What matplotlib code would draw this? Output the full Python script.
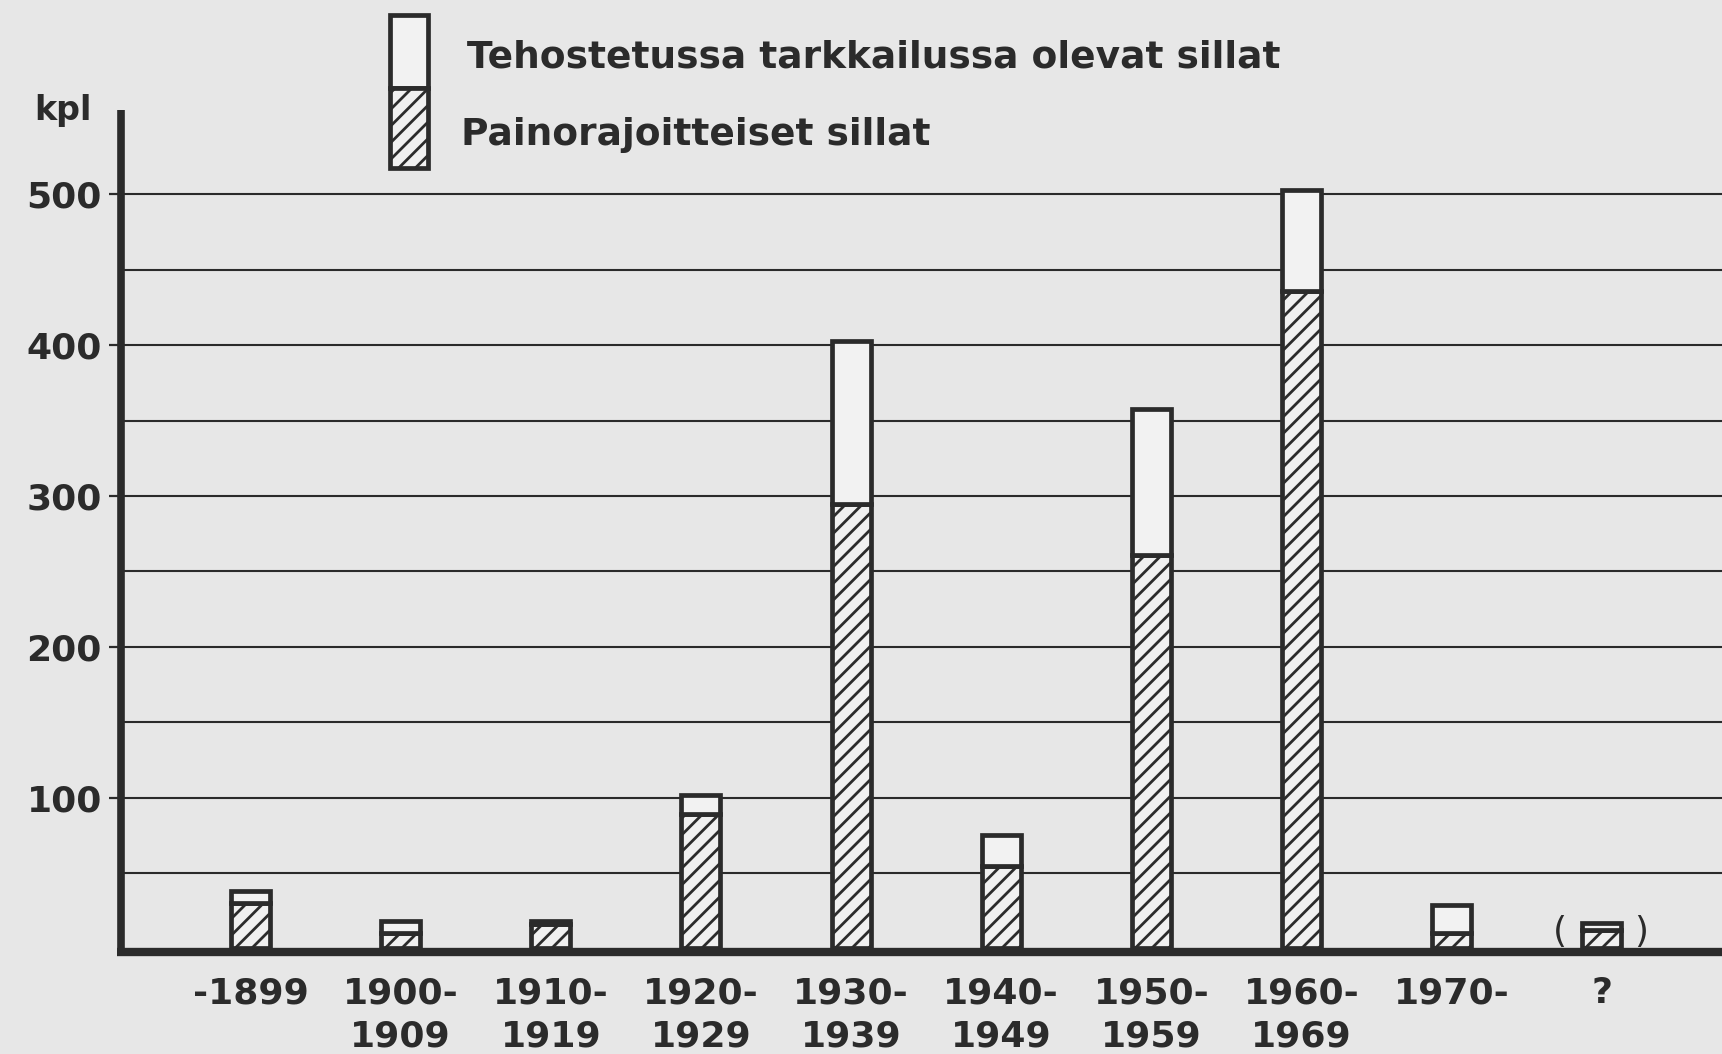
import matplotlib
matplotlib.use("Agg")
import matplotlib.pyplot as plt
from matplotlib.patches import Rectangle

plt.rcParams['font.family'] = ['DejaVu Sans']
plt.rcParams['hatch.linewidth'] = 2.0

categories = ["-1899", "1900-\n1909", "1910-\n1919", "1920-\n1929", "1930-\n1939",
              "1940-\n1949", "1950-\n1959", "1960-\n1969", "1970-", "?"]
painorajoitteiset = [30, 10, 16, 89, 295, 55, 261, 436, 10, 12]
tehostetut = [8, 8, 2, 13, 108, 20, 97, 67, 19, 5]
yticks = [100, 200, 300, 400, 500]
legend_labels = ["Tehostetussa tarkkailussa olevat sillat", "Painorajoitteiset sillat"]

ink = '#2b2b2b'
paper = '#e7e7e7'

fig = plt.figure(figsize=(17.22, 10.54), dpi=100, facecolor=paper)
ax = fig.add_axes([0.0705, 0.1001, 0.9295, 0.7955])
ax.set_facecolor(paper)

x = list(range(len(categories)))
x0 = -0.86
xmax = 9.80
ax.set_xlim(x0, xmax)
ax.set_ylim(0, 556)

# grid lines
grid = list(range(50, 501, 50))
ax.hlines(grid, x0, xmax, color=ink, lw=1.5, zorder=1)

w = 0.26
ax.bar(x, painorajoitteiset, width=w, facecolor='#f0f0f0', edgecolor=ink,
       hatch='//', linewidth=3.4, zorder=3)
ax.bar(x, tehostetut, bottom=painorajoitteiset, width=w, facecolor='#f2f2f2',
       edgecolor=ink, linewidth=3.4, zorder=3)

# axes lines
ax.plot([x0, x0], [-4, 556], color=ink, lw=5.5, clip_on=False, zorder=4, solid_capstyle='butt')
ax.plot([x0 - 0.027, xmax], [-2.6, -2.6], color=ink, lw=6, clip_on=False, zorder=4,
        solid_capstyle='butt')

for s in ax.spines.values():
    s.set_visible(False)

ax.set_yticks(yticks)
ax.set_yticklabels([str(v) for v in yticks], fontsize=26, fontweight='bold', color=ink)
ax.tick_params(axis='y', length=9, width=1.6, color=ink, pad=5, direction='out')
ax.set_xticks(x)
ax.set_xticklabels(categories, fontsize=26, fontweight='bold', color=ink, linespacing=1.36, va='top')
ax.tick_params(axis='x', length=0, pad=20)

ax.text(x[9] - 0.28, 11, "(", fontsize=26, color=ink, ha='center', va='center', zorder=5)
ax.text(x[9] + 0.26, 11, ")", fontsize=26, color=ink, ha='center', va='center', zorder=5)

fig.text(0.0366, 0.895, "kpl", fontsize=24, fontweight='bold', color=ink, ha='center', va='center')

# legend
lx, lw_ = 0.2265, 0.0221
fig.patches.append(Rectangle((lx, 0.9165), lw_, 0.0693, transform=fig.transFigure,
                             facecolor='#f2f2f2', edgecolor=ink, linewidth=3.4))
fig.patches.append(Rectangle((lx, 0.8406), lw_, 0.0759, transform=fig.transFigure,
                             facecolor='#f0f0f0', edgecolor=ink, linewidth=3.4, hatch='//'))
fig.text(0.271, 0.945, legend_labels[0], fontsize=27, fontweight='bold', color=ink,
         ha='left', va='center')
fig.text(0.268, 0.872, legend_labels[1], fontsize=27, fontweight='bold', color=ink,
         ha='left', va='center')

fig.savefig("out.png", dpi=100, facecolor=paper)
